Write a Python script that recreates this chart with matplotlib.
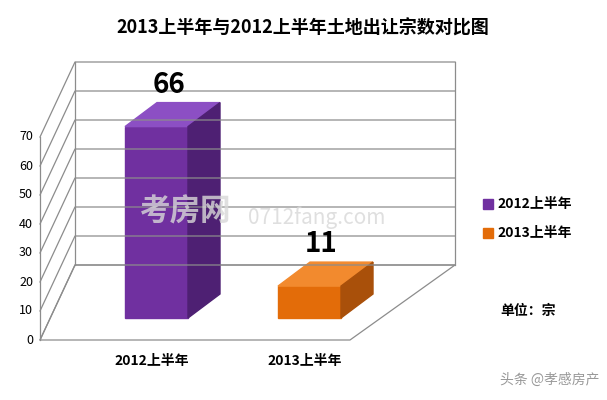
import matplotlib
matplotlib.use("Agg")
import matplotlib.pyplot as plt
from matplotlib.patches import Polygon

plt.rcParams['font.family'] = ['Noto Sans CJK SC', 'DejaVu Sans']

categories = ["2012上半年", "2013上半年"]
values = [66, 11]
ticks = [0, 10, 20, 30, 40, 50, 60, 70]
front_colors = ["#7030A0", "#E36C09"]
top_colors = ["#8C4FC4", "#F28A2E"]
side_colors = ["#4E2073", "#A9500A"]

SCALE = 2.9          # pixels per unit
FLOOR_FRONT = 340    # y pixel of value 0 at front
FLOOR_BACK = 265     # y pixel of value 0 at back wall
BAR_BASE = 318
BAR_X = [125, 278]
BAR_W = 63
DEPTH_DX, DEPTH_DY = 32, -24

fig = plt.figure(figsize=(6.07, 4.0), dpi=100)
ax = fig.add_axes([0, 0, 1, 1])
ax.set_xlim(0, 607)
ax.set_ylim(400, 0)
ax.axis("off")

grid_c = "#8c8c8c"
# floor
ax.add_patch(Polygon([(40, FLOOR_FRONT), (350, FLOOR_FRONT), (455, FLOOR_BACK), (75, FLOOR_BACK)],
                     closed=True, fill=False, edgecolor=grid_c, lw=0.9))
# gridlines on side wall and back wall
for t in ticks:
    yf = FLOOR_FRONT - t * SCALE
    yb = FLOOR_BACK - t * SCALE
    ax.plot([40, 75, 455], [yf, yb, yb], color=grid_c, lw=0.9)
    ax.text(33, yf, str(t), ha="right", va="center", fontsize=9)
top = max(ticks)
ax.plot([40, 40], [FLOOR_FRONT, FLOOR_FRONT - top * SCALE], color=grid_c, lw=0.9)
ax.plot([75, 75], [FLOOR_BACK, FLOOR_BACK - top * SCALE], color=grid_c, lw=0.9)
ax.plot([455, 455], [FLOOR_BACK, FLOOR_BACK - top * SCALE], color=grid_c, lw=0.9)

# 3D-like bars
for x0, v, fc, tc, sc in zip(BAR_X, values, front_colors, top_colors, side_colors):
    ytop = BAR_BASE - v * SCALE
    x1 = x0 + BAR_W
    ax.add_patch(Polygon([(x0, BAR_BASE), (x1, BAR_BASE), (x1, ytop), (x0, ytop)], color=fc))
    ax.add_patch(Polygon([(x0, ytop), (x1, ytop), (x1 + DEPTH_DX, ytop + DEPTH_DY),
                          (x0 + DEPTH_DX, ytop + DEPTH_DY)], color=tc))
    ax.add_patch(Polygon([(x1, BAR_BASE), (x1 + DEPTH_DX, BAR_BASE + DEPTH_DY),
                          (x1 + DEPTH_DX, ytop + DEPTH_DY), (x1, ytop)], color=sc))
    ax.text(x0 + BAR_W / 2 + 12, ytop + DEPTH_DY - 4, str(v), ha="center", va="bottom",
            fontsize=20, fontweight="bold")

for x0, c in zip(BAR_X, categories):
    ax.text(x0 + BAR_W / 2 - 5, 361, c, ha="center", va="center", fontsize=10, fontweight="bold")

ax.text(303, 28, "2013上半年与2012上半年土地出让宗数对比图", ha="center", va="center",
        fontsize=13, fontweight="bold")

# legend
for i, (c, fc) in enumerate(zip(categories, front_colors)):
    y = 204 + i * 29
    ax.add_patch(Polygon([(483, y - 5), (493, y - 5), (493, y + 5), (483, y + 5)], color=fc))
    ax.text(497, y, c, ha="left", va="center", fontsize=10, fontweight="bold")
ax.text(500, 311, "单位：宗", ha="left", va="center", fontsize=10, fontweight="bold")

# watermarks
ax.text(140, 212, "考房网", fontsize=22, color="#d8d8d8", alpha=0.8, ha="left", va="center", fontweight="bold")
ax.text(248, 218, "0712fang.com", fontsize=15, color="#d8d8d8", alpha=0.8, ha="left", va="center")
ax.text(600, 380, "头条 @孝感房产", fontsize=10, color="#ffffff", ha="right", va="center",
        bbox=dict(facecolor="#444444", alpha=0.0, edgecolor="none"))
ax.text(600, 380, "头条 @孝感房产", fontsize=10, color="#555555", alpha=0.6, ha="right", va="center")

fig.savefig("out.png", dpi=100)
